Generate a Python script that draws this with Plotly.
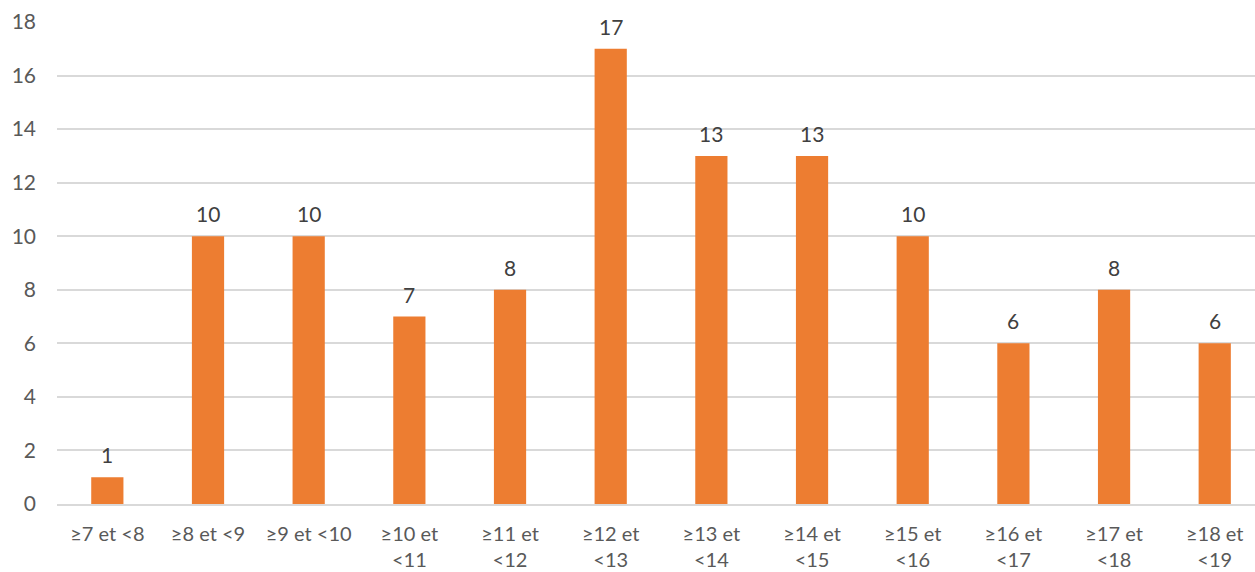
import plotly.graph_objects as go

categories = ["≥7 et <8", "≥8 et <9", "≥9 et <10", "≥10 et<br><11", "≥11 et<br><12",
              "≥12 et<br><13", "≥13 et<br><14", "≥14 et<br><15", "≥15 et<br><16",
              "≥16 et<br><17", "≥17 et<br><18", "≥18 et<br><19"]
values = [1, 10, 10, 7, 8, 17, 13, 13, 10, 6, 8, 6]
y_ticks = [0, 2, 4, 6, 8, 10, 12, 14, 16, 18]

FONT = "Lato"

fig = go.Figure(go.Bar(
    x=categories, y=values,
    marker=dict(color="#ED7D31", line=dict(width=0)),
    cliponaxis=False,
))
for c, v in zip(categories, values):
    fig.add_annotation(x=c, y=v, text=str(v), showarrow=False, yanchor="bottom",
                       yshift=8, font=dict(family=FONT, size=21, color="#404040"))
fig.update_layout(
    width=1255, height=572,
    margin=dict(l=57, r=0, t=22, b=68),
    paper_bgcolor="white", plot_bgcolor="white",
    bargap=0.68, showlegend=False,
    font=dict(family=FONT, size=21, color="#595959"),
    xaxis=dict(showgrid=False, showline=True, linecolor="#D9D9D9", linewidth=1.5,
               range=[-0.5, 11.4], automargin=False,
               tickfont=dict(size=20, color="#595959"), ticklabelstandoff=11),
    yaxis=dict(range=[0, 18], tickvals=y_ticks, showgrid=True, gridcolor="#D9D9D9",
               gridwidth=1.5, zeroline=False, showline=False, automargin=False,
               tickfont=dict(size=21, color="#595959"), ticklabelstandoff=20),
)
fig.write_html("out.html")
